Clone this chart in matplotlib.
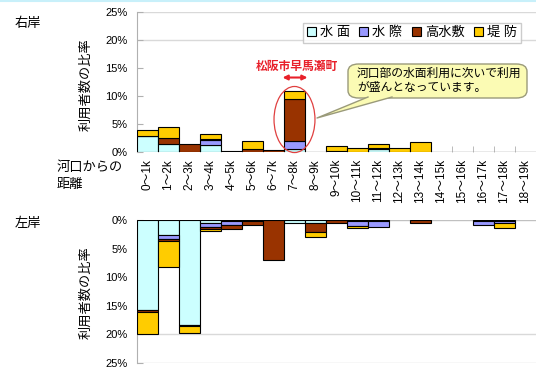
import numpy as np
import matplotlib.pyplot as plt
from matplotlib.patches import Patch, Ellipse, FancyBboxPatch, Polygon
from matplotlib.lines import Line2D

plt.rcParams['font.family'] = ['Liberation Sans', 'Noto Sans CJK JP']

# distance from the river mouth (km)
sections = ['0～1k', '1～2k', '2～3k', '3～4k', '4～5k', '5～6k', '6～7k', '7～8k',
            '8～9k', '9～10k', '10～11k', '11～12k', '12～13k', '13～14k',
            '14～15k', '15～16k', '16～17k', '17～18k', '18～19k']

labels = ['水 面', '水 際', '高水敷', '堤 防']
colors = ['#ccffff', '#9999ff', '#993300', '#ffcc00']

# share of users (%) - right bank
right_surface = [2.8, 1.5, 0, 1.2, 0, 0, 0, 0.6, 0, 0, 0, 0.5, 0, 0, 0, 0, 0, 0, 0]
right_edge = [0, 0, 0, 0.9, 0, 0, 0, 1.4, 0, 0, 0, 0, 0, 0, 0, 0, 0, 0, 0]
right_flood = [0.1, 1.0, 1.4, 0.3, 0.15, 0.5, 0.3, 7.4, 0, 0.1, 0, 0.2, 0, 0, 0, 0, 0, 0, 0]
right_bank = [1.0, 2.0, 0, 0.8, 0, 1.5, 0, 1.5, 0, 1.0, 0.7, 0.65, 0.75, 1.8, 0, 0, 0, 0, 0]

# share of users (%) - left bank
left_surface = [15.7, 2.7, 18.4, 0.6, 0.2, 0.2, 0, 0.5, 0.5, 0, 0.1, 0.1, 0, 0, 0, 0, 0.1, 0.1, 0]
left_edge = [0, 0.7, 0, 0.7, 0.6, 0, 0, 0, 0, 0, 0.9, 1.1, 0, 0, 0, 0, 0.7, 0.5, 0]
left_flood = [0.3, 0.3, 0.1, 0.2, 0.7, 0.6, 7.0, 0, 1.6, 0.6, 0, 0, 0, 0.5, 0, 0, 0, 0, 0]
left_bank = [4.0, 4.6, 1.2, 0.5, 0, 0, 0, 0, 0.9, 0, 0.4, 0, 0, 0, 0, 0, 0, 0.8, 0]

W, H = 536, 373


def fx(px):
    return px / W


def fy(py):
    return 1 - py / H


def stacked(ax, series):
    x = np.arange(len(sections))
    base = np.zeros(len(sections))
    for vals, c in zip(series, colors):
        vals = np.array(vals, dtype=float)
        m = vals > 0
        ax.bar(x[m], vals[m], bottom=base[m], width=1.0, color=c,
               edgecolor='black', linewidth=0.8, zorder=3)
        base += vals


def style_axis(ax):
    ax.set_xlim(-0.5, len(sections) - 0.5)
    ax.set_yticks(np.arange(0, 26, 5))
    ax.set_yticklabels([f'{v}%' for v in range(0, 26, 5)])
    ax.tick_params(axis='y', direction='in', length=4, color='#b0b0b0',
                   labelsize=8, pad=7)
    for v in (20, 25):
        ax.axhline(v, color='#d9d9d9', lw=1, zorder=1)
    for s in ('top', 'right', 'bottom'):
        ax.spines[s].set_visible(False)
    ax.spines['left'].set_color('#b0b0b0')


fig = plt.figure(figsize=(W / 100, H / 100), dpi=100)
fig.add_artist(Line2D([0, 1], [fy(0.8), fy(0.8)], color='#c8f0fa', lw=1.5))

# right bank
ax1 = fig.add_axes([fx(137), fy(152), 1 - fx(137), fy(12) - fy(152)])
stacked(ax1, [right_surface, right_edge, right_flood, right_bank])
style_axis(ax1)
ax1.set_ylim(0, 25)
ax1.axhline(0, color='#909090', lw=1, zorder=2)
ax1.set_xticks(np.arange(len(sections)))
ax1.set_xticklabels(sections, rotation=90, va='top', ha='center', fontsize=8.5)
ax1.set_xticks(np.arange(len(sections)) - 0.5, minor=True)
ax1.tick_params(axis='x', which='major', length=0, pad=5)
ax1.tick_params(axis='x', which='minor', direction='in', length=4, color='#b0b0b0')

# left bank (drawn downwards)
ax2 = fig.add_axes([fx(137), fy(363), 1 - fx(137), fy(220) - fy(363)])
stacked(ax2, [left_surface, left_edge, left_flood, left_bank])
style_axis(ax2)
ax2.set_ylim(25, 0)
ax2.axhline(0, color='#c0c0c0', lw=1, zorder=2)
ax2.set_xticks([])

# texts
fig.text(fx(15), fy(24), '右岸', fontsize=9.5, va='center', ha='left')
fig.text(fx(15), fy(224), '左岸', fontsize=9.5, va='center', ha='left')
fig.text(fx(86), fy(85), '利用者数の比率', rotation=90, fontsize=9.5,
         va='center', ha='center')
fig.text(fx(86), fy(293), '利用者数の比率', rotation=90, fontsize=9.5,
         va='center', ha='center')
fig.text(fx(57), fy(168), '河口からの', fontsize=9.5, va='center', ha='left')
fig.text(fx(57), fy(185), '距離', fontsize=9.5, va='center', ha='left')

handles = [Patch(facecolor=c, edgecolor='black', linewidth=0.8) for c in colors]
fig.legend(handles, labels, loc='center', bbox_to_anchor=(fx(412), fy(33)),
           ncol=4, fontsize=9.5, frameon=True, fancybox=False,
           edgecolor='#c0c0c0', handlelength=0.7, handleheight=0.7,
           handletextpad=0.3, columnspacing=0.7, borderpad=0.25)

# highlighted section
ax1.add_patch(Ellipse((7, 5.8), 1.95, 11.8, fill=False, edgecolor='#e04040',
                      lw=0.9, zorder=5, clip_on=False))
ax1.annotate('', xy=(6.3, 13.3), xytext=(7.75, 13.3),
             arrowprops=dict(arrowstyle='<|-|>', color='#e8202a', lw=1.5,
                             mutation_scale=7))
ax1.text(7.1, 15.1, '松阪市早馬瀬町', color='#e8202a', fontsize=8.5,
         fontweight='bold', ha='center', va='center')

# callout
box_fc, box_ec = '#fbfbb4', '#9a9a7a'
fig.add_artist(FancyBboxPatch((fx(348), fy(98)), fx(527) - fx(348), fy(64) - fy(98),
                              boxstyle='round,pad=0.0,rounding_size=0.02',
                              transform=fig.transFigure, facecolor=box_fc,
                              edgecolor=box_ec, lw=1))
tip = (fx(317), fy(118))
b1, b2 = (fx(368), fy(97)), (fx(392), fy(97))
fig.add_artist(Polygon([b1, tip, b2], closed=True, transform=fig.transFigure,
                       facecolor=box_fc, edgecolor='none'))
fig.add_artist(Line2D([b1[0], tip[0], b2[0]], [b1[1], tip[1], b2[1]],
                      color=box_ec, lw=1))
fig.text(fx(357), fy(74), '河口部の水面利用に次いで利用', fontsize=8.5,
         ha='left', va='center')
fig.text(fx(357), fy(87.5), 'が盛んとなっています。', fontsize=8.5,
         ha='left', va='center')

fig.savefig('out.png', dpi=100)
